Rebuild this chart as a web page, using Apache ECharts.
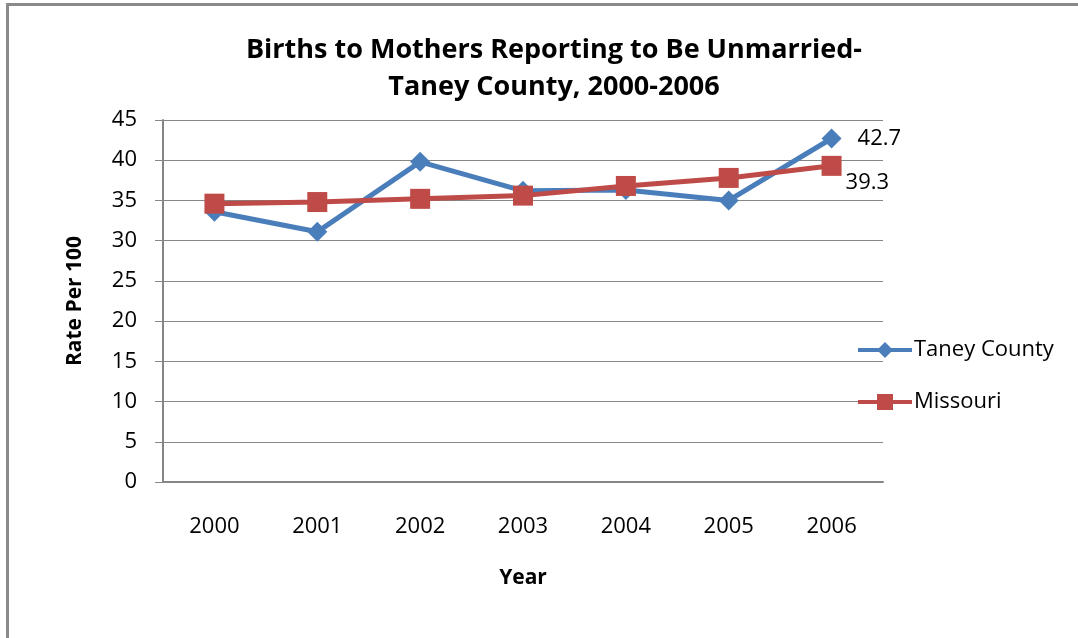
<!DOCTYPE html>
<html>
<head>
<meta charset="utf-8">
<script src="https://cdn.jsdelivr.net/npm/echarts@6/dist/echarts.min.js"></script>
<style>
html,body{margin:0;padding:0;background:#fff;}
#chart{width:1078px;height:638px;}
</style>
</head>
<body>
<div id="chart"></div>
<script>
const years = ['2000','2001','2002','2003','2004','2005','2006'];
const taneyCounty = [33.6, 31.1, 39.8, 36.2, 36.3, 35.0, 42.7];
const missouri = [34.6, 34.8, 35.2, 35.6, 36.8, 37.8, 39.3];
const yTicks = [0, 5, 10, 15, 20, 25, 30, 35, 40, 45];

const FONT = 'Open Sans';
const chart = echarts.init(document.getElementById('chart'));

function withLastLabel(values, labelOpts) {
  return values.map((v, i) => i === values.length - 1
    ? { value: v, label: Object.assign({ show: true, color: '#000', fontSize: 22, fontFamily: FONT }, labelOpts) }
    : v);
}

const iconDiamond = 'path://M0 8 L54 8 L54 12 L0 12 Z M27 2 L35 10 L27 18 L19 10 Z';
const iconSquare = 'path://M0 8 L54 8 L54 12 L0 12 Z M19 2 L35 2 L35 18 L19 18 Z';

chart.setOption({
  animation: false,
  backgroundColor: '#fff',
  textStyle: { fontFamily: FONT },
  graphic: [{
    type: 'rect',
    shape: { x: 7.5, y: 4.5, width: 1200, height: 800 },
    style: { fill: 'none', stroke: '#8a8a8a', lineWidth: 3 },
    silent: true
  }],
  title: {
    text: 'Births to Mothers Reporting to Be Unmarried-\nTaney County, 2000-2006',
    left: 549, top: 27, textAlign: 'center',
    textStyle: { fontFamily: FONT, fontWeight: 'bold', fontSize: 27, lineHeight: 37, color: '#000' }
  },
  legend: {
    orient: 'vertical',
    left: 853, top: 334,
    itemWidth: 54, itemHeight: 20, itemGap: 30,
    textStyle: { fontFamily: FONT, fontSize: 22, color: '#000', padding: [0,0,0,-3] },
    data: [
      { name: 'Taney County', icon: iconDiamond },
      { name: 'Missouri', icon: iconSquare }
    ]
  },
  grid: { left: 163, right: 195, top: 120, bottom: 156, containLabel: false },
  xAxis: {
    type: 'category',
    data: years,
    boundaryGap: true,
    name: 'Year',
    nameLocation: 'middle',
    nameGap: 86,
    nameTextStyle: { fontFamily: FONT, fontWeight: 'bold', fontSize: 21, color: '#000' },
    axisLine: { lineStyle: { color: '#868686', width: 2 } },
    axisTick: { show: false },
    axisLabel: { margin: 34, fontSize: 22, color: '#000', fontFamily: FONT }
  },
  yAxis: {
    type: 'value',
    min: 0, max: 45, interval: 5,
    name: 'Rate Per 100',
    nameLocation: 'middle',
    nameGap: 77,
    nameRotate: 90,
    nameTextStyle: { fontFamily: FONT, fontWeight: 'bold', fontSize: 21, color: '#000' },
    axisLine: { show: true, lineStyle: { color: '#868686', width: 2 } },
    axisTick: { show: true, length: 8, lineStyle: { color: '#868686', width: 1 } },
    splitLine: { lineStyle: { color: '#868686', width: 1 } },
    axisLabel: {
      margin: 26, fontSize: 22, color: '#000', fontFamily: FONT,
      formatter: v => yTicks.includes(v) ? String(v) : ''
    }
  },
  series: [
    {
      name: 'Taney County',
      type: 'line',
      data: withLastLabel(taneyCounty, { position: 'right', distance: 16 }),
      symbol: 'diamond',
      symbolSize: 20,
      lineStyle: { color: '#4a7ebb', width: 5 },
      itemStyle: { color: '#4a7ebb' },
      z: 2
    },
    {
      name: 'Missouri',
      type: 'line',
      data: withLastLabel(missouri, { position: 'right', distance: 4, offset: [0, 17] }),
      symbol: 'rect',
      symbolSize: 20,
      lineStyle: { color: '#be4b48', width: 5 },
      itemStyle: { color: '#be4b48' },
      z: 3
    }
  ]
});
</script>
</body>
</html>
